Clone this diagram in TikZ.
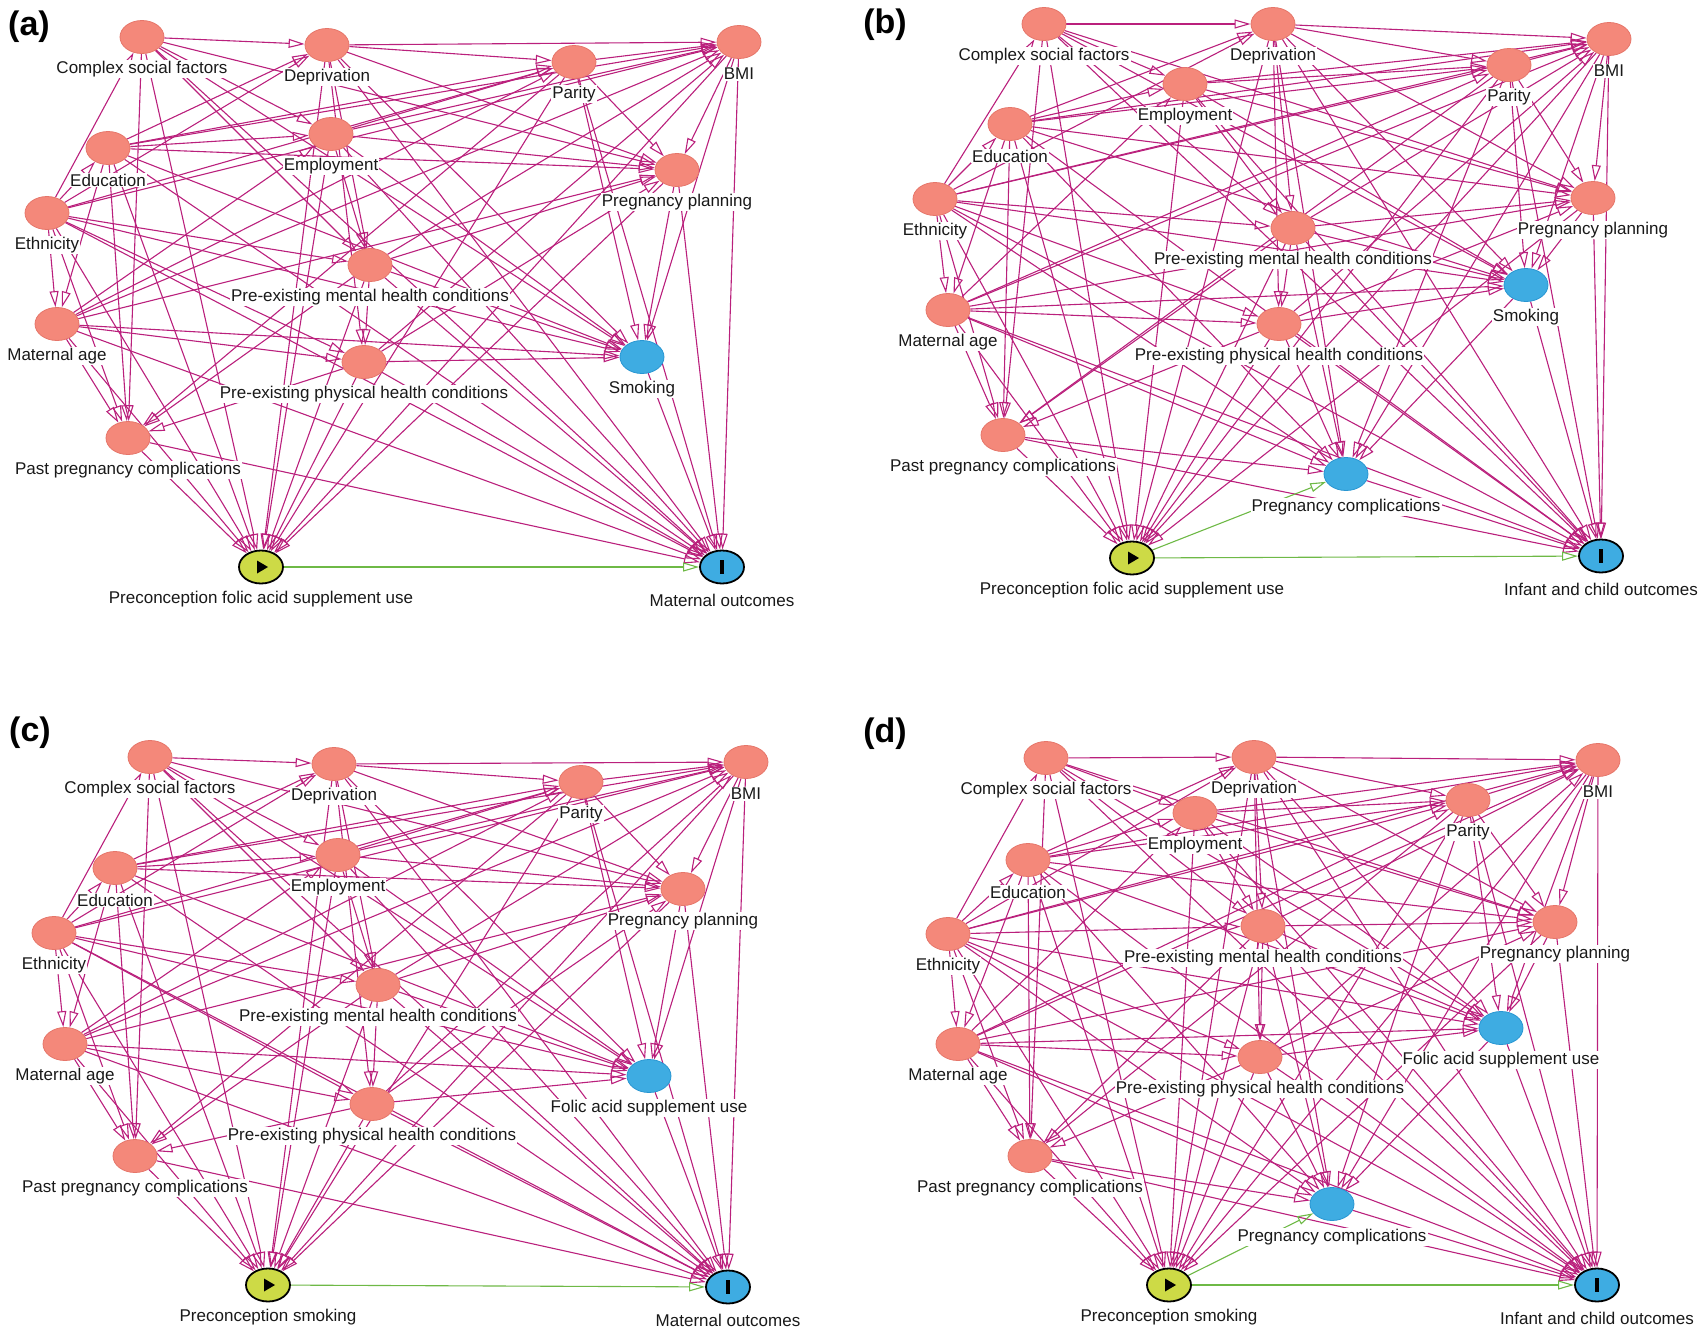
\documentclass[tikz,border=0pt]{standalone}
\usepackage{fontspec}
\setmainfont{Liberation Sans}
\usepackage{tikz}
\usetikzlibrary{shapes.geometric,arrows.meta,backgrounds}
\definecolor{edgecol}{RGB}{186, 32, 124}
\definecolor{causalcol}{RGB}{110, 185, 70}
\definecolor{conffill}{RGB}{244, 136, 122}
\definecolor{confline}{RGB}{230, 118, 106}
\definecolor{ancfill}{RGB}{62, 172, 226}
\definecolor{ancline}{RGB}{40, 150, 210}
\definecolor{expfill}{RGB}{205, 218, 70}

\begin{document}
\begin{tikzpicture}[x=1pt, y=-1pt,
      conf/.style={ellipse, draw=confline, fill=conffill, line width=0.8pt,
                   minimum width=44pt, minimum height=33pt, inner sep=0pt},
      anc/.style={conf, draw=ancline, fill=ancfill},
      expo/.style={conf, draw=black, fill=expfill, line width=1.8pt},
      outc/.style={conf, draw=black, fill=ancfill, line width=1.8pt},
      lbl/.style={fill=white, inner sep=1pt, text=black!90,
                  font=\fontsize{17}{19}\selectfont},
      plbl/.style={font=\fontsize{34}{36}\selectfont\bfseries, anchor=center},
      edge/.style={draw=edgecol, line width=1.1pt,
                   -{Triangle[open, length=16pt, width=9pt]}},
      causal/.style={edge, draw=causalcol},
    ]
    \useasboundingbox (0,0) rectangle (1701,1331);
    %% panel letters
    \node[plbl] (la) at (29,27) {(a)};
    \node[plbl] (lb) at (885,25) {(b)};
    \node[plbl] (lc) at (30,733) {(c)};
    \node[plbl] (ld) at (885,734) {(d)};

    %% panel (a) -- confounders
    \foreach \n/\x/\y/\t in {csf/142/37/Complex social factors, dep/327/45/Deprivation,
        par/574/62/Parity, bmi/739/42/BMI, edu/108/148/Education, emp/331/134/Employment,
        pp/677/170/Pregnancy planning, eth/47/213/Ethnicity,
        mh/370/265/Pre-existing mental health conditions, age/57/324/Maternal age,
        ph/364/362/Pre-existing physical health conditions,
        ppc/128/438/Past pregnancy complications}{
      \node[conf] (a-\n) at (\x,\y) {};
      \node[lbl] (a-\n-l) at (\x,\y+32) {\t};
    }
    \node[anc] (a-sfa) at (642,357) {};
    \node[lbl] (a-sfa-l) at (642,389) {Smoking};
    \node[expo] (a-exp) at (261,567) {};
    \node[lbl] (a-exp-l) at (261,599) {Preconception folic acid supplement use};
    \node[outc] (a-out) at (722,567) {};
    \node[lbl] (a-out-l) at (722,600) {Maternal outcomes};

    %% panel (b) -- confounders
    \foreach \n/\x/\y/\t in {csf/1044/24/Complex social factors, dep/1273/24/Deprivation,
        par/1509/65/Parity, bmi/1609/39/BMI, edu/1010/124/Education, emp/1185/84/Employment,
        pp/1593/198/Pregnancy planning, eth/935/199/Ethnicity,
        mh/1293/228/Pre-existing mental health conditions, age/948/310/Maternal age,
        ph/1279/324/Pre-existing physical health conditions,
        ppc/1003/435/Past pregnancy complications}{
      \node[conf] (b-\n) at (\x,\y) {};
      \node[lbl] (b-\n-l) at (\x,\y+32) {\t};
    }
    \node[anc] (b-sfa) at (1526,285) {};
    \node[lbl] (b-sfa-l) at (1526,317) {Smoking};
    \node[anc] (b-pc) at (1346,474) {};
    \node[lbl] (b-pc-l) at (1346,507) {Pregnancy complications};
    \node[expo] (b-exp) at (1132,558) {};
    \node[lbl] (b-exp-l) at (1132,590) {Preconception folic acid supplement use};
    \node[outc] (b-out) at (1601,556) {};
    \node[lbl] (b-out-l) at (1601,589) {Infant and child outcomes};

    %% panel (c) -- confounders
    \foreach \n/\x/\y/\t in {csf/150/757/Complex social factors, dep/334/764/Deprivation,
        par/581/782/Parity, bmi/746/762/BMI, edu/115/868/Education, emp/338/855/Employment,
        pp/683/889/Pregnancy planning, eth/54/933/Ethnicity,
        mh/378/985/Pre-existing mental health conditions, age/65/1044/Maternal age,
        ph/372/1104/Pre-existing physical health conditions,
        ppc/135/1156/Past pregnancy complications}{
      \node[conf] (c-\n) at (\x,\y) {};
      \node[lbl] (c-\n-l) at (\x,\y+32) {\t};
    }
    \node[anc] (c-sfa) at (649,1076) {};
    \node[lbl] (c-sfa-l) at (649,1108) {Folic acid supplement use};
    \node[expo] (c-exp) at (268,1285) {};
    \node[lbl] (c-exp-l) at (268,1317) {Preconception smoking};
    \node[outc] (c-out) at (728,1287) {};
    \node[lbl] (c-out-l) at (728,1320) {Maternal outcomes};

    %% panel (d) -- confounders
    \foreach \n/\x/\y/\t in {csf/1046/758/Complex social factors, dep/1254/757/Deprivation,
        par/1468/800/Parity, bmi/1598/760/BMI, edu/1028/860/Education, emp/1195/813/Employment,
        pp/1555/922/Pregnancy planning, eth/948/934/Ethnicity,
        mh/1263/926/Pre-existing mental health conditions, age/958/1044/Maternal age,
        ph/1260/1057/Pre-existing physical health conditions,
        ppc/1030/1156/Past pregnancy complications}{
      \node[conf] (d-\n) at (\x,\y) {};
      \node[lbl] (d-\n-l) at (\x,\y+32) {\t};
    }
    \node[anc] (d-sfa) at (1501,1028) {};
    \node[lbl] (d-sfa-l) at (1501,1060) {Folic acid supplement use};
    \node[anc] (d-pc) at (1332,1204) {};
    \node[lbl] (d-pc-l) at (1332,1237) {Pregnancy complications};
    \node[expo] (d-exp) at (1169,1285) {};
    \node[lbl] (d-exp-l) at (1169,1317) {Preconception smoking};
    \node[outc] (d-out) at (1597,1285) {};
    \node[lbl] (d-out-l) at (1597,1318) {Infant and child outcomes};

    %% exposure / outcome marks
    \foreach \p in {a,b,c,d}{
      \fill ([shift={(-4,-6.5)}]\p-exp.center) -- ([shift={(7,0)}]\p-exp.center)
        -- ([shift={(-4,6.5)}]\p-exp.center) -- cycle;
      \fill ([shift={(-1.8,-7)}]\p-out.center) rectangle ([shift={(1.8,7)}]\p-out.center);
    }

    %% edges, under the nodes and labels
    \begin{pgfonlayer}{background}
    \foreach \p in {a,b,c,d}{
      \foreach \s/\t in {eth/csf, eth/edu, eth/dep, eth/par, eth/bmi, eth/mh, eth/ph,
          eth/ppc, eth/age, eth/sfa, eth/exp, eth/out,
          age/emp, age/par, age/bmi, age/pp, age/ph, age/ppc, age/sfa, age/exp, age/out,
          edu/age, edu/dep, edu/emp, edu/par, edu/bmi, edu/pp, edu/ppc, edu/sfa,
          edu/exp, edu/out,
          csf/dep, csf/emp, csf/mh, csf/pp, csf/ppc, csf/sfa, csf/exp, csf/out,
          dep/par, dep/bmi, dep/pp, dep/mh, dep/ph, dep/sfa, dep/exp, dep/out,
          emp/par, emp/bmi, emp/pp, emp/mh, emp/sfa, emp/exp, emp/out,
          par/bmi, par/pp, par/ppc, par/sfa, par/exp, par/out,
          mh/bmi, mh/pp, mh/ph, mh/ppc, mh/sfa, mh/exp, mh/out,
          ph/bmi, ph/pp, ph/ppc, ph/sfa, ph/exp, ph/out,
          bmi/pp, bmi/sfa, bmi/exp, bmi/out,
          pp/sfa, pp/exp, pp/out, ppc/exp, ppc/out, sfa/out}
        \draw[edge] (\p-\s) -- (\p-\t);
      \draw[causal] (\p-exp) -- (\p-out);
    }
    %% pregnancy complications (b, d)
    \foreach \p in {b,d}{
      \foreach \s in {eth, age, edu, dep, par, mh, ph, bmi, ppc, sfa}
        \draw[edge] (\p-\s) -- (\p-pc);
      \draw[edge] (\p-pc) -- (\p-out);
      \draw[causal] (\p-exp) -- (\p-pc);
    }
    \end{pgfonlayer}
\end{tikzpicture}
\end{document}
